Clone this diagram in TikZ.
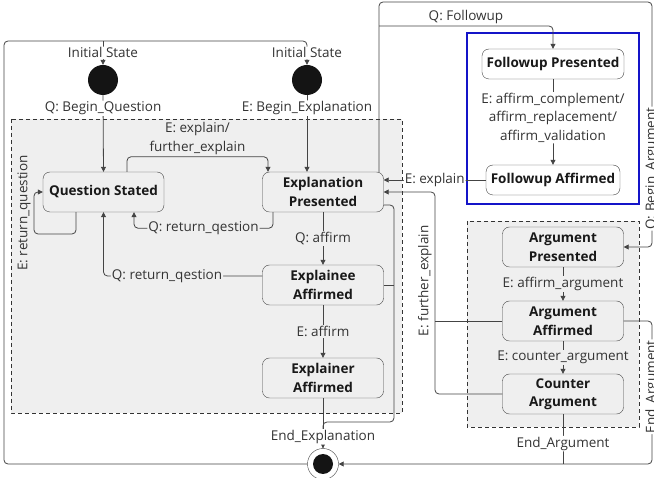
\documentclass[tikz,border=0pt]{standalone}
\usepackage{fontspec}
\setmainfont{Open Sans}
\usetikzlibrary{arrows.meta}
\definecolor{regiongray}{HTML}{EFEFEF}
\definecolor{linegray}{HTML}{444444}
\definecolor{txtgray}{HTML}{333333}
\definecolor{boxblue}{HTML}{1414C8}
\tikzset{
  region/.style={draw=black!80, dash pattern=on 4pt off 3pt, fill=regiongray},
  stbox/.style={draw=linegray, rounded corners=7pt, align=center,
    font=\fontsize{13.5}{18.5}\selectfont\bfseries, text=black!90,
    minimum width=121pt, minimum height=40pt, inner sep=2pt},
  initst/.style={circle, fill=black!92, minimum size=30pt, inner sep=0pt},
  endst/.style={circle, draw=linegray, fill=white, minimum size=31pt, inner sep=0pt},
  line/.style={draw=linegray, line width=0.8pt, rounded corners=4pt},
  arr/.style={line, -{Triangle[length=5pt,width=5pt]}},
  lbl/.style={font=\fontsize{13.5}{18.5}\selectfont, text=txtgray, inner sep=1pt},
  lblw/.style={lbl, fill=white},
  lblg/.style={lbl, fill=regiongray}
}
\begin{document}
\begin{tikzpicture}[x=1pt,y=-1pt]
\useasboundingbox (0,0) rectangle (654,478);
\draw[region] (11,119) rectangle (402,413);
\draw[region] (467,221) rectangle (639,427);
\draw[draw=boxblue, line width=1.6pt, fill=white] (467,33) rectangle (639,204);

\node[stbox] (qs) at (103.5,192) {Question Stated};
\node[stbox] (ep) at (323,192) {Explanation\\Presented};
\node[stbox] (eea) at (323,285) {Explainee\\Affirmed};
\node[stbox] (era) at (323,378) {Explainer\\Affirmed};
\node[stbox, minimum width=142pt, minimum height=30pt] (fp) at (553,64) {Followup Presented};
\node[stbox, minimum width=134pt, minimum height=30pt] (fa) at (553,180) {Followup Affirmed};
\node[stbox] (ap) at (563,247) {Argument\\Presented};
\node[stbox] (aa) at (563,321) {Argument\\Affirmed};
\node[stbox] (ca) at (563,394) {Counter\\Argument};
\node[initst] (i1) at (103,80) {};
\node[initst] (i2) at (307,80) {};
\node[endst] (fin) at (323,464) {};
\fill[black!92] (fin.center) circle (10);
\coordinate (top1) at (103,41);
\coordinate (fork) at (379,26);

\draw[arr] (fin.west) -| (4,41) -| node[lblw, pos=0.75] {Initial State} (i2.north);
\draw[arr] (top1) -- node[lblw] {Initial State} (i1.north);
\draw[arr] (i1.south) -- node[lblw, pos=0.17] {Q: Begin\_Question} (qs.north);
\draw[arr] (i2.south) -- node[lblw, pos=0.17] {E: Begin\_Explanation} (i2.south |- ep.north);
\draw[arr] ([xshift=23.5pt]qs.north) |- node[lbl, pos=0.75, above=1pt, align=center] {E: explain/\\further\_explain} ([xshift=-55pt,yshift=15pt]ep.north) -- ([xshift=-55pt]ep.north);
\draw[arr] ([xshift=-50pt]ep.south) |- node[lblg, pos=0.75] {Q: return\_qestion} ([xshift=30.5pt,yshift=-16pt]qs.south) -- ([xshift=30.5pt]qs.south);
\draw[arr] ([xshift=-27.5pt]qs.south) |- (34,234) |- node[lbl, pos=0.25, rotate=90, anchor=south, inner sep=3pt] {E: return\_question} (qs.west);
\draw[arr] ([yshift=9pt]eea.west) -| node[lblg, pos=0.3] {Q: return\_qestion} (qs.south);
\draw[arr] (ep.south) -- node[lblg] {Q: affirm} (eea.north);
\draw[arr] (eea.south) -- node[lblg] {E: affirm} (era.north);
\draw[line] ([yshift=-13pt]ep.east) -| (394,422) -| (fin.north);
\draw[line] (eea.east) -- (394,285);
\draw[arr] (era.south) -- node[lblw, pos=0.77] {End\_Explanation} (fin.north);

\draw[arr] ([xshift=56pt]ep.north) |- (652,2) |- node[lblw, pos=0.34, rotate=90] {Q: Begin\_Argument} (ap.east);
\draw[arr] (fork) -| node[lbl, pos=0.25, above=1pt] {Q: Followup} (fp.north);
\draw[arr] (fp.south) -- node[lblw, pos=0.45, align=center] {E: affirm\_complement/\\affirm\_replacement/\\affirm\_validation} (fa.north);
\draw[arr] (fa.west) -- node[lblw] {E: explain} (fa.west -| ep.east);

\draw[arr] (ca.west) -| node[lbl, pos=0.78, rotate=90, anchor=south, inner sep=3pt] {E: further\_explain} (435,192) -- (ep.east);
\draw[line] (aa.west) -- (435,321);
\draw[arr] (ap.south) -- node[lblg] {E: affirm\_argument} (aa.north);
\draw[arr] (aa.south) -- node[lblg] {E: counter\_argument} (ca.north);
\draw[arr] (aa.east) -| node[lblw, pos=0.73, rotate=90] {End\_Argument} (652,464) -- (fin.east);
\draw[line] (ca.south) -- node[lblw, pos=0.59] {End\_Argument} (ca.south |- fin.east);
\end{tikzpicture}
\end{document}
